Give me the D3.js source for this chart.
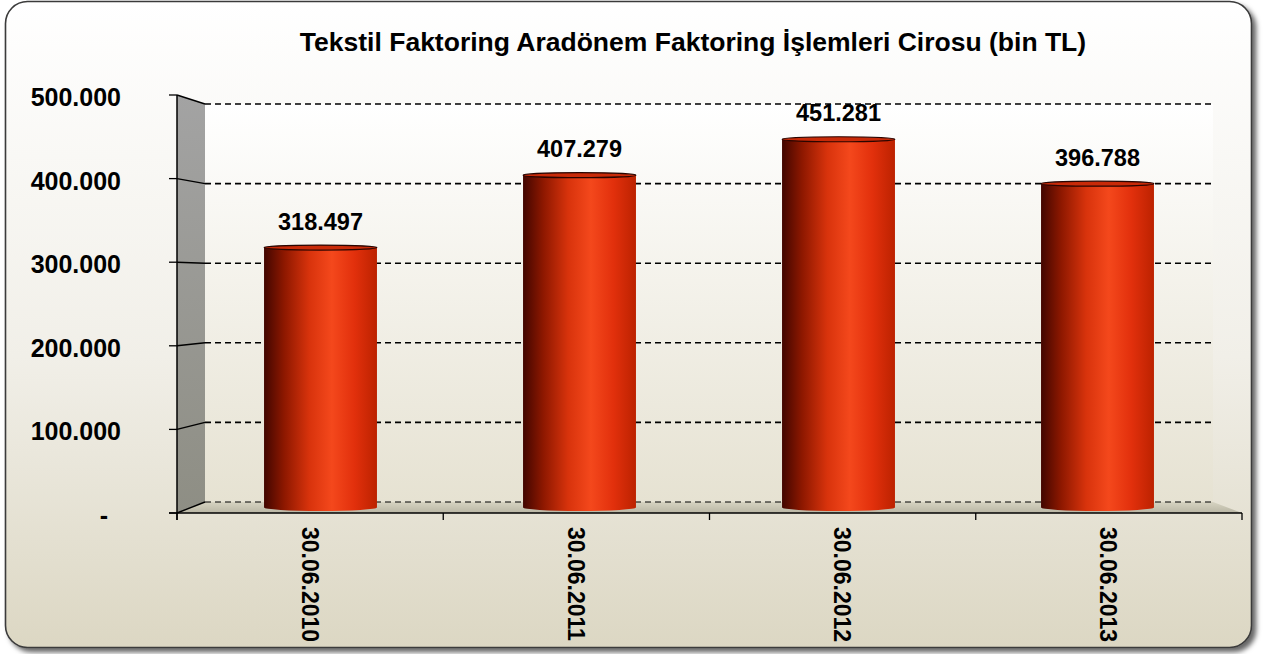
<!DOCTYPE html>
<html>
<head>
<meta charset="utf-8">
<script src="https://cdn.jsdelivr.net/npm/d3@7"></script>
<style>
  body { margin: 0; background: #ffffff; }
  text { font-family: "Liberation Sans", Arial, sans-serif; font-weight: bold; fill: #000; }
</style>
</head>
<body>
<div id="chart"></div>
<script>
// data
var categories = ["30.06.2010", "30.06.2011", "30.06.2012", "30.06.2013"];
var values = [318497, 407279, 451281, 396788];
var tickValues = [0, 100000, 200000, 300000, 400000, 500000];
var tickLabels = ["-", "100.000", "200.000", "300.000", "400.000", "500.000"];
var valueLabels = ["318.497", "407.279", "451.281", "396.788"];
var chartTitle = "Tekstil Faktoring Aradönem Faktoring İşlemleri Cirosu (bin TL)";

var svgWidth = 1271;
var svgHeight = 654;

var svg = d3.select("#chart")
  .append("svg")
  .attr("width", svgWidth)
  .attr("height", svgHeight);

var defs = svg.append("defs");

// background gradient
var bg = defs.append("linearGradient").attr("id", "bg")
  .attr("x1", 0).attr("y1", 0).attr("x2", 0).attr("y2", 1);
bg.append("stop").attr("offset", "0%").attr("stop-color", "#ffffff");
bg.append("stop").attr("offset", "55%").attr("stop-color", "#f1efe8");
bg.append("stop").attr("offset", "100%").attr("stop-color", "#dcd7c3");

var wall = defs.append("linearGradient").attr("id", "wall")
  .attr("x1", 0).attr("y1", 0).attr("x2", 0).attr("y2", 1);
wall.append("stop").attr("offset", "0%").attr("stop-color", "#ffffff");
wall.append("stop").attr("offset", "100%").attr("stop-color", "#e6e2d2");

var side = defs.append("linearGradient").attr("id", "side")
  .attr("x1", 0).attr("y1", 0).attr("x2", 0).attr("y2", 1);
side.append("stop").attr("offset", "0%").attr("stop-color", "#a3a3a3");
side.append("stop").attr("offset", "100%").attr("stop-color", "#8e8e84");

var floorG = defs.append("linearGradient").attr("id", "floor")
  .attr("x1", 0).attr("y1", 0).attr("x2", 0).attr("y2", 1);
floorG.append("stop").attr("offset", "0%").attr("stop-color", "#d6d3c1");
floorG.append("stop").attr("offset", "100%").attr("stop-color", "#b9b6a4");

// cylinder body gradient
var cyl = defs.append("linearGradient").attr("id", "cyl")
  .attr("x1", 0).attr("y1", 0).attr("x2", 1).attr("y2", 0);
cyl.append("stop").attr("offset", "0%").attr("stop-color", "#420600");
cyl.append("stop").attr("offset", "18%").attr("stop-color", "#8e1800");
cyl.append("stop").attr("offset", "40%").attr("stop-color", "#d8330c");
cyl.append("stop").attr("offset", "60%").attr("stop-color", "#f4481c");
cyl.append("stop").attr("offset", "80%").attr("stop-color", "#e2300c");
cyl.append("stop").attr("offset", "100%").attr("stop-color", "#bc2200");

var shadow = defs.append("filter").attr("id", "shadow")
  .attr("x", "-5%").attr("y", "-5%").attr("width", "110%").attr("height", "110%");
shadow.append("feDropShadow").attr("dx", 4).attr("dy", 4)
  .attr("stdDeviation", 2.5).attr("flood-color", "#000").attr("flood-opacity", 0.6);

// outer frame
svg.append("rect")
  .attr("x", 5.5).attr("y", 1.5)
  .attr("width", 1246).attr("height", 646)
  .attr("rx", 22).attr("ry", 22)
  .attr("fill", "url(#bg)")
  .attr("stroke", "#3a3a3a")
  .attr("stroke-width", 1.6)
  .attr("filter", "url(#shadow)");

// title
svg.append("text")
  .attr("x", 693).attr("y", 51)
  .attr("text-anchor", "middle")
  .style("font-size", "26.5px")
  .text(chartTitle);

// 3d geometry: front plane, back plane, and the plane the bars stand in
var front = { x0: 177, x1: 1242 };
var back = { x0: 205, x1: 1213 };
var mid = { x0: 191, x1: 1227 };

var yFront = d3.scaleLinear().domain([0, 500000]).range([513, 95]);
var yBack = d3.scaleLinear().domain([0, 500000]).range([502, 104]);
var yMid = d3.scaleLinear().domain([0, 500000]).range([507.5, 99.5]);

var xFront = d3.scaleBand().domain(categories).range([front.x0, front.x1]);
var xBar = d3.scaleBand().domain(categories).range([mid.x0, mid.x1])
  .paddingInner(0.564).paddingOuter(0.282);

// back wall
svg.append("polygon")
  .attr("points", [[back.x0, yBack(500000)], [back.x1, yBack(500000)], [back.x1, yBack(0)], [back.x0, yBack(0)]].join(" "))
  .attr("fill", "url(#wall)");

// side wall
svg.append("polygon")
  .attr("points", [[front.x0, yFront(500000)], [back.x0, yBack(500000)], [back.x0, yBack(0)], [front.x0, yFront(0)]].join(" "))
  .attr("fill", "url(#side)");

// floor
svg.append("polygon")
  .attr("points", [[front.x0, yFront(0)], [back.x0, yBack(0)], [back.x1, yBack(0)], [front.x1, yFront(0)]].join(" "))
  .attr("fill", "url(#floor)");

// gridlines on back wall
svg.selectAll(".grid")
  .data(tickValues)
  .enter()
  .append("line")
  .attr("x1", back.x0).attr("x2", back.x1)
  .attr("y1", d => yBack(d)).attr("y2", d => yBack(d))
  .attr("stroke", "#000")
  .attr("stroke-width", d => d === 0 ? 1 : 1.6)
  .attr("stroke-dasharray", "6,4");

// slanted lines on side wall
svg.selectAll(".slant")
  .data(tickValues)
  .enter()
  .append("line")
  .attr("x1", front.x0).attr("x2", back.x0)
  .attr("y1", d => yFront(d)).attr("y2", d => yBack(d))
  .attr("stroke", "#000")
  .attr("stroke-width", 1.4);

// y axis line and ticks
svg.append("line")
  .attr("x1", front.x0).attr("x2", front.x0)
  .attr("y1", yFront(500000)).attr("y2", yFront(0) + 7)
  .attr("stroke", "#000").attr("stroke-width", 1.5);

svg.selectAll(".ytick")
  .data(tickValues)
  .enter()
  .append("line")
  .attr("x1", front.x0 - 8).attr("x2", front.x0)
  .attr("y1", d => yFront(d)).attr("y2", d => yFront(d))
  .attr("stroke", "#000").attr("stroke-width", 1.3);

svg.selectAll(".ylabel")
  .data(tickValues)
  .enter()
  .append("text")
  .attr("x", (d, i) => d === 0 ? 108 : 121)
  .attr("y", d => yFront(d) + 11)
  .attr("text-anchor", "end")
  .style("font-size", "25px")
  .text((d, i) => tickLabels[i]);

// x axis line and ticks
svg.append("line")
  .attr("x1", front.x0 - 8).attr("x2", front.x1)
  .attr("y1", yFront(0)).attr("y2", yFront(0))
  .attr("stroke", "#000").attr("stroke-width", 1.5);

var xBounds = categories.map(c => xFront(c)).concat([front.x1]);
svg.selectAll(".xtick")
  .data(xBounds)
  .enter()
  .append("line")
  .attr("x1", d => d).attr("x2", d => d)
  .attr("y1", yFront(0)).attr("y2", yFront(0) + 7)
  .attr("stroke", "#000").attr("stroke-width", 1.3);

svg.selectAll(".xlabel")
  .data(categories)
  .enter()
  .append("text")
  .attr("transform", d => `translate(${xFront(d) + xFront.bandwidth() / 2 - 8.5}, 527) rotate(90)`)
  .attr("text-anchor", "start")
  .style("font-size", "23px")
  .text(d => d);

// cylinders
var bars = svg.selectAll(".bar")
  .data(values)
  .enter()
  .append("g");

var bw = xBar.bandwidth();
var ry = 3.5;

bars.append("ellipse")
  .attr("cx", (d, i) => xBar(categories[i]) + bw / 2)
  .attr("cy", yMid(0))
  .attr("rx", bw / 2).attr("ry", ry)
  .attr("fill", "url(#cyl)");

bars.append("rect")
  .attr("x", (d, i) => xBar(categories[i]))
  .attr("y", d => yMid(d))
  .attr("width", bw)
  .attr("height", d => yMid(0) - yMid(d))
  .attr("fill", "url(#cyl)");

bars.append("ellipse")
  .attr("cx", (d, i) => xBar(categories[i]) + bw / 2)
  .attr("cy", d => yMid(d))
  .attr("rx", bw / 2).attr("ry", 2.5)
  .attr("fill", "#c82a08")
  .attr("stroke", "#2a0500")
  .attr("stroke-width", 1.2);

// value labels
bars.append("text")
  .attr("x", (d, i) => xBar(categories[i]) + bw / 2)
  .attr("y", d => yMid(d) - 18)
  .attr("text-anchor", "middle")
  .style("font-size", "23.5px")
  .text((d, i) => valueLabels[i]);
</script>
</body>
</html>
